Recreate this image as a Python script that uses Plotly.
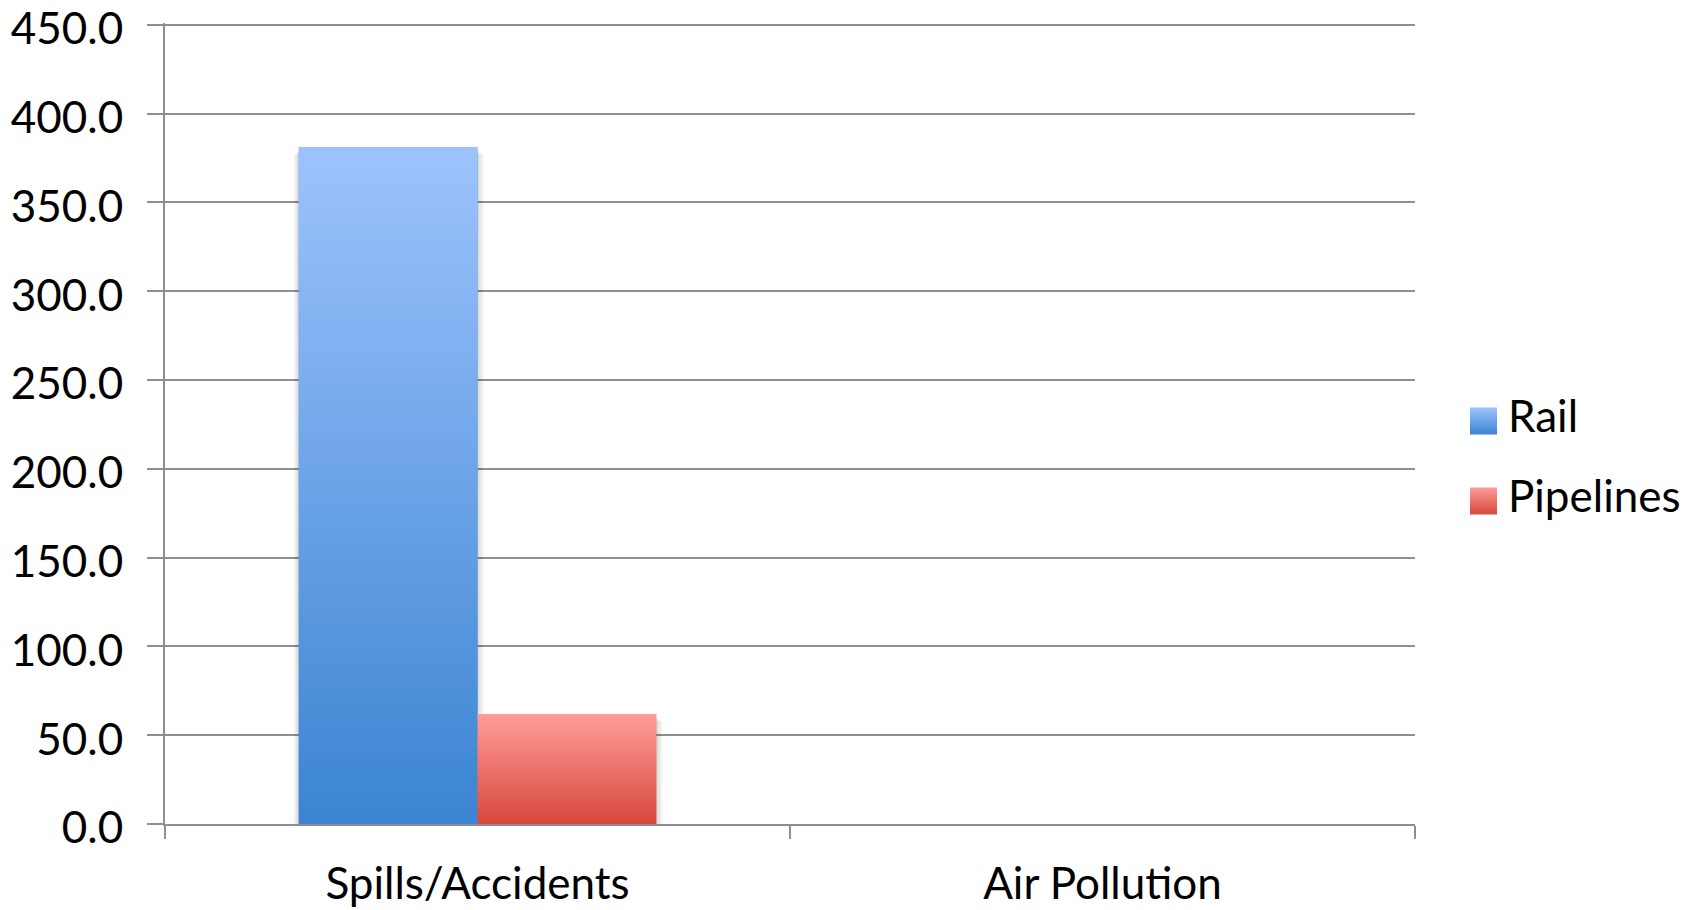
import plotly.graph_objects as go

# ---- data ----
categories = ["Spills/Accidents", "Air Pollution"]
series_names = ["Rail", "Pipelines"]
rail_values = [381.0, 0.0]
pipeline_values = [62.0, 0.0]
y_ticks = [0, 50, 100, 150, 200, 250, 300, 350, 400, 450]

# ---- styling ----
FONT = "Lato"
FONT_SIZE = 44
GRID = "#8f8f8f"
colors_top = {"Rail": "#9dc3fd", "Pipelines": "#ff9d99"}
colors_bottom = {"Rail": "#3a84d1", "Pipelines": "#d7473c"}
colors_mid = {"Rail": "#6ba3e6", "Pipelines": "#ec7670"}

BAR_GAP = 0.428
half_group = (1 - BAR_GAP) / 2
bar_w = (1 - BAR_GAP) / len(series_names)

values = {"Rail": rail_values, "Pipelines": pipeline_values}

L, R, T, B = 165, 10, 23, 86
W, H = 1704, 910
pw = W - L - R
plot_right = 1415
main_dom = (plot_right - L) / pw
leg_x0 = (1440 - L) / pw
Y_MAX = 451
px_x = 1.0 / ((plot_right - L) / 2)      # one pixel in category units
px_y = Y_MAX / (H - T - B)               # one pixel in value units

fig = go.Figure()

# plain bars on the category axis
for name in series_names:
    fig.add_trace(go.Bar(
        x=categories, y=values[name], name=name,
        marker=dict(color=colors_mid[name], line=dict(width=0)),
        showlegend=False, xaxis="x", yaxis="y",
    ))

# soft drop shadow around each bar (layered translucent outlines)
for j, name in enumerate(series_names):
    for i, v in enumerate(values[name]):
        if v <= 0:
            continue
        x0 = i - half_group + j * bar_w
        x1 = x0 + bar_w
        for k in range(1, 5):
            sx0 = x0 - k * 1.3 * px_x
            sx1 = x1 + k * 1.6 * px_x
            sy = v - (3 + k) * px_y
            fig.add_trace(go.Scatter(
                x=[sx0, sx1, sx1, sx0, sx0], y=[0, 0, sy, sy, 0],
                mode="lines", line=dict(width=0), fill="toself",
                fillcolor="rgba(0,0,0,0.035)",
                hoverinfo="skip", showlegend=False, xaxis="x2", yaxis="y",
            ))

# vertical gradient fill laid over each bar (numeric overlay axis)
for j, name in enumerate(series_names):
    for i, v in enumerate(values[name]):
        if v <= 0:
            continue
        x0 = i - half_group + j * bar_w
        x1 = x0 + bar_w
        fig.add_trace(go.Scatter(
            x=[x0, x1, x1, x0, x0], y=[0, 0, v, v, 0],
            mode="lines", line=dict(width=0), fill="toself",
            fillgradient=dict(type="vertical",
                              colorscale=[[0, colors_bottom[name]], [1, colors_top[name]]]),
            hoverinfo="skip", showlegend=False, xaxis="x2", yaxis="y",
        ))

# legend drawn as gradient squares with labels in a small side panel
legend_y = [403, 323]
for k, name in enumerate(series_names):
    fig.add_trace(go.Scatter(
        x=[43.5], y=[legend_y[k]], mode="markers",
        marker=dict(symbol="square", size=27, color=colors_top[name],
                    gradient=dict(type="vertical", color=colors_bottom[name]),
                    line=dict(width=0)),
        hoverinfo="skip", showlegend=False, xaxis="x3", yaxis="y3",
    ))
    fig.add_trace(go.Scatter(
        x=[68], y=[legend_y[k]], mode="text",
        text=[name], textposition="middle right",
        textfont=dict(family=FONT, size=FONT_SIZE, color="black"),
        hoverinfo="skip", showlegend=False, xaxis="x3", yaxis="y3",
    ))

fig.update_layout(
    width=W, height=H,
    margin=dict(l=L, r=R, t=T, b=B, pad=0, autoexpand=False),
    paper_bgcolor="white", plot_bgcolor="white",
    barmode="group", bargap=BAR_GAP, bargroupgap=0,
    showlegend=False,
    font=dict(family=FONT, size=FONT_SIZE, color="black"),
    xaxis=dict(
        domain=[0, main_dom], type="category", categoryorder="array",
        categoryarray=categories, range=[-0.5, 1.5], automargin=False,
        showline=True, linecolor=GRID, linewidth=2,
        ticks="outside", tickson="boundaries", ticklen=13, tickwidth=2, tickcolor=GRID,
        showgrid=False, ticklabelstandoff=20,
        tickfont=dict(family=FONT, size=FONT_SIZE, color="black"),
    ),
    xaxis2=dict(domain=[0, main_dom], overlaying="x", range=[-0.5, 1.5],
                visible=False, anchor="y"),
    yaxis=dict(
        range=[0, Y_MAX], tickvals=y_ticks, tickformat=".1f", automargin=False,
        showline=True, linecolor=GRID, linewidth=2,
        ticks="outside", ticklen=16, tickwidth=2, tickcolor=GRID,
        showgrid=True, gridcolor=GRID, gridwidth=2, zeroline=False,
        ticklabelstandoff=15, ticklabelshift=4, ticklabeloverflow="allow",
        tickfont=dict(family=FONT, size=FONT_SIZE, color="black"),
    ),
    xaxis3=dict(domain=[leg_x0, 1], range=[0, W - R - 1440], visible=False, anchor="y3"),
    yaxis3=dict(domain=[0, 1], range=[0, H - T - B], visible=False, anchor="x3"),
)

fig.write_html("out.html")
